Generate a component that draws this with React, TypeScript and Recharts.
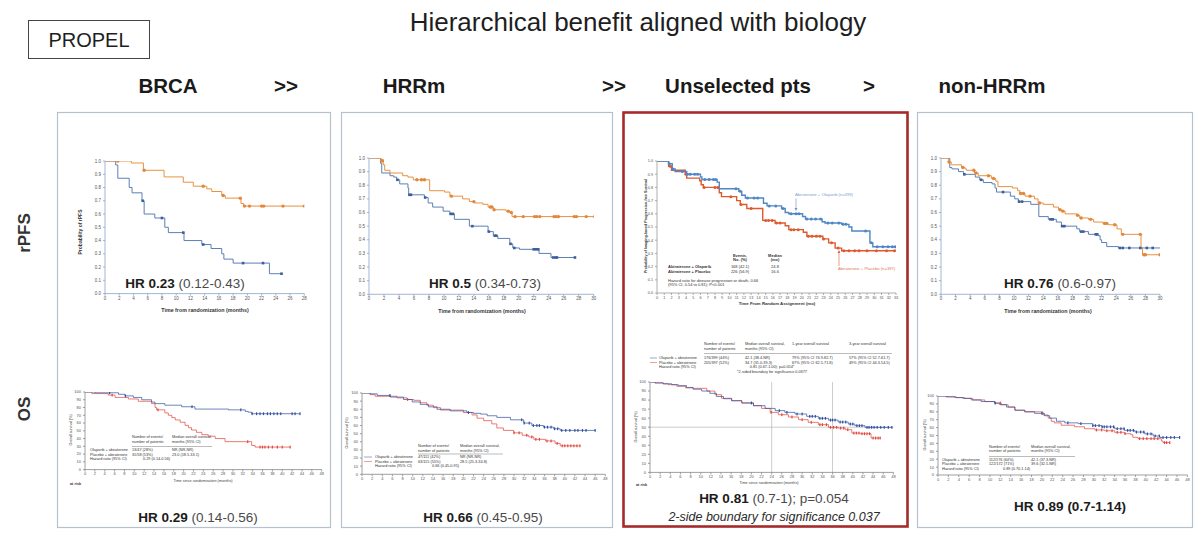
import React from "react";
import { ComposedChart, Line, XAxis, YAxis, ReferenceLine } from "recharts";

type Pt = [number, number];

const FONT = '"Liberation Sans", Arial, Helvetica, sans-serif';

// ---- axis ticks ----
const pfsYTicks = [0, 0.1, 0.2, 0.3, 0.4, 0.5, 0.6, 0.7, 0.8, 0.9, 1.0];
const osYTicks = [0, 10, 20, 30, 40, 50, 60, 70, 80, 90, 100];
const monthsTo28 = [0, 2, 4, 6, 8, 10, 12, 14, 16, 18, 20, 22, 24, 26, 28];
const monthsTo30 = [0, 2, 4, 6, 8, 10, 12, 14, 16, 18, 20, 22, 24, 26, 28, 30];
const monthsTo33 = [0, 1, 2, 3, 4, 5, 6, 7, 8, 9, 10, 11, 12, 13, 14, 15, 16, 17, 18, 19, 20, 21, 22, 23, 24, 25, 26, 27, 28, 29, 30, 31, 32, 33];
const monthsTo48 = [0, 2, 4, 6, 8, 10, 12, 14, 16, 18, 20, 22, 24, 26, 28, 30, 32, 34, 36, 38, 40, 42, 44, 46, 48];

// ---- BRCA rPFS ----
const brcaPfsOla: Pt[] = [[0, 1], [3.7, 0.985], [5.4, 0.93], [8.3, 0.88], [11, 0.84], [12.4, 0.81], [14.3, 0.79], [15, 0.77], [16.4, 0.74], [16.9, 0.72], [19.1, 0.68], [19.5, 0.66]];
const brcaPfsOlaCens = [1.8, 5.5, 13.8, 16.6, 19, 19.6, 20.3, 22, 22.3, 25, 28];
const brcaPfsPbo: Pt[] = [[0, 1], [1.5, 0.97], [1.8, 0.87], [3.4, 0.8], [3.8, 0.76], [5.2, 0.7], [5.5, 0.6], [7, 0.57], [8.4, 0.5], [8.9, 0.46], [11.1, 0.4], [13.6, 0.37], [14.9, 0.34], [16.4, 0.3], [16.7, 0.26], [18, 0.23], [23.1, 0.15]];
const brcaPfsPboCens = [5.3, 8, 11, 13.8, 19.4, 22.2, 24.8];

// ---- HRRm rPFS ----
const hrrPfsOla: Pt[] = [[0, 1], [1.6, 0.98], [1.9, 0.95], [2.1, 0.91], [2.8, 0.89], [4.5, 0.87], [5.2, 0.86], [5.9, 0.84], [8.1, 0.76], [10.1, 0.75], [10.8, 0.72], [12.5, 0.7], [13.4, 0.68], [14.1, 0.67], [15.2, 0.66], [15.9, 0.64], [16.6, 0.62], [18.3, 0.61], [18.8, 0.6], [19.1, 0.57]];
const hrrPfsOlaCens = [1.7, 1.8, 6.4, 7, 7.4, 11, 14, 16.2, 16.4, 16.7, 18.6, 19, 19.5, 20.6, 22.1, 22.4, 22.8, 24.7, 25, 25.3, 27.4, 27.7, 29, 30.1];
const hrrPfsPbo: Pt[] = [[0, 1], [1.55, 0.96], [1.7, 0.89], [2.8, 0.87], [3.3, 0.86], [3.7, 0.84], [4.1, 0.81], [5.2, 0.78], [5.3, 0.73], [7.4, 0.71], [7.9, 0.67], [8.5, 0.64], [9.9, 0.61], [10.8, 0.59], [11.4, 0.55], [13.4, 0.5], [15.9, 0.46], [16.6, 0.43], [17.2, 0.41], [18.8, 0.37], [19.2, 0.34], [20.1, 0.33], [22.7, 0.3], [24.3, 0.27]];
const hrrPfsPboCens = [3.8, 5.4, 5.6, 7.5, 10.9, 11.2, 13.8, 16, 16.8, 17, 18.9, 19.4, 22, 22.3, 22.6, 24.6, 24.9, 25.1, 27.5];

// ---- Unselected rPFS ----
const allPfsOla: Pt[] = [[0, 1], [1.6, 0.98], [2.1, 0.94], [2.5, 0.92], [4.1, 0.9], [6, 0.88], [6.2, 0.86], [8.3, 0.84], [8.6, 0.79], [11.3, 0.77], [11.7, 0.74], [12.2, 0.72], [14.7, 0.68], [15.2, 0.66], [17.2, 0.64], [17.7, 0.61], [18.2, 0.6], [20.1, 0.58], [20.5, 0.56], [22.8, 0.54], [23.2, 0.53], [25.5, 0.52], [26.5, 0.5], [26.9, 0.47], [29.4, 0.38], [29.8, 0.35]];
const allPfsOlaCens = [1.7, 2.2, 3.5, 4.2, 4.6, 5.2, 5.6, 6.6, 7.2, 7.8, 8.1, 10.9, 11.5, 12.5, 13.4, 13.9, 15.5, 16.4, 17.4, 18.5, 19.2, 19.6, 20.7, 21.3, 21.9, 22.6, 23.6, 24.2, 25.1, 25.7, 26.1, 28.8, 29.6, 30.4, 31.2, 31.9, 32.5, 32.9];
const allPfsPbo: Pt[] = [[0, 1], [1.6, 0.96], [2, 0.93], [3.9, 0.9], [4.1, 0.87], [5.9, 0.85], [6.1, 0.82], [6.4, 0.8], [8.6, 0.76], [8.9, 0.73], [11, 0.7], [11.5, 0.67], [12.4, 0.64], [14.6, 0.55], [16.3, 0.53], [17.7, 0.51], [18.2, 0.48], [20.2, 0.46], [20.7, 0.43], [22.9, 0.41], [23.7, 0.38], [24.6, 0.34], [25.5, 0.32]];
const allPfsPboCens = [1.8, 4.0, 6.5, 8.0, 8.4, 10.2, 11.6, 13.0, 15.0, 15.4, 15.9, 16.5, 17.0, 18.5, 18.9, 19.5, 20.9, 21.4, 22.0, 22.5, 23.0, 24.1, 25.0, 25.8, 26.5, 27.3, 27.9, 29.0, 30.3, 31.7, 32.8];

// ---- non-HRRm rPFS ----
const nonPfsOla: Pt[] = [[0, 1], [1, 0.97], [1.4, 0.95], [2.8, 0.93], [3.3, 0.92], [3.5, 0.91], [4.6, 0.89], [5.1, 0.87], [6.9, 0.85], [7.5, 0.83], [7.8, 0.79], [9.8, 0.78], [10.5, 0.76], [10.8, 0.74], [11.5, 0.72], [12.8, 0.7], [13.3, 0.67], [14, 0.66], [15.4, 0.64], [16.1, 0.62], [16.5, 0.61], [17, 0.59], [18.6, 0.58], [19, 0.56], [20.2, 0.55], [20.9, 0.53], [22.2, 0.52], [22.9, 0.51], [24.1, 0.48], [24.7, 0.44], [27.4, 0.34], [27.6, 0.29]];
const nonPfsOlaCens = [1.1, 3, 4.5, 4.8, 6.5, 7.2, 10.9, 11.3, 12.2, 13.5, 16.3, 16.7, 18.7, 19.2, 20.5, 22.4, 22.7, 23.8, 24.9, 27.3, 27.8, 28, 30, 30.4];
const nonPfsPbo: Pt[] = [[0, 1], [1.2, 0.93], [1.5, 0.92], [2.4, 0.9], [3.1, 0.88], [4.7, 0.86], [5.3, 0.84], [5.8, 0.82], [7, 0.81], [7.4, 0.78], [7.6, 0.75], [9.5, 0.72], [10.1, 0.7], [10.6, 0.68], [12.3, 0.66], [13.4, 0.57], [14.7, 0.55], [15.8, 0.53], [16.5, 0.5], [18.6, 0.48], [19, 0.46], [20.2, 0.44], [21.5, 0.43], [21.8, 0.4], [22, 0.38], [22.7, 0.35], [24.3, 0.34]];
const nonPfsPboCens = [3.2, 5.5, 8.5, 10.7, 11.1, 15, 15.3, 16.6, 16.9, 19.2, 19.5, 21.2, 21.4, 24.5, 24.9, 25.8, 27.3, 28.2, 29, 30.2];

// ---- BRCA OS ----
const brcaOsOla: Pt[] = [[0, 100], [2, 99], [6.8, 97], [8.1, 95], [9.8, 93], [11.5, 90], [13.5, 87], [14.2, 85], [16.2, 83], [19.6, 81], [22.3, 78], [29.1, 77], [32.5, 75], [33.1, 74], [33.8, 72]];
const brcaOsOlaCens = [5, 8.2, 21.7, 31.6, 33.9, 34.8, 35.5, 36.2, 37, 37.6, 38.3, 39, 39.7, 42, 42.6, 43.6];
const brcaOsPbo: Pt[] = [[0, 100], [1.4, 98], [4.7, 96], [6.1, 93], [8.8, 91], [10.8, 88], [13.5, 85], [14.2, 80], [14.5, 77], [16.2, 73], [16.9, 70], [17.6, 67], [18.3, 64], [19.3, 61], [20.3, 57], [21, 54], [21.6, 51], [22.6, 48], [23.7, 45], [25, 43], [26.4, 40], [28.4, 36], [33.8, 31], [34.5, 29]];
const brcaOsPboCens = [5.5, 14.8, 33, 35.5, 36, 36.5, 37.2, 38, 39, 40, 41.6];

// ---- HRRm OS ----
const hrrOsOla: Pt[] = [[0, 100], [1.6, 99], [3, 97], [5.6, 95], [8.2, 92], [9.9, 89], [11.5, 86], [13.1, 83], [14.8, 80], [17.4, 78], [20.7, 76], [22, 75], [23.4, 74], [24.7, 72], [26.6, 70], [29.3, 67], [31.9, 63], [33.5, 60], [35.8, 58], [37.8, 56], [39.1, 54]];
const hrrOsOlaCens = [5.5, 21, 31.5, 32, 33, 33.8, 34.5, 35, 36, 36.6, 37.3, 38, 38.6, 39.4, 40.2, 41, 42, 42.6, 43.5, 44.2, 46];
const hrrOsPbo: Pt[] = [[0, 100], [1.6, 98], [2.6, 96], [6.9, 94], [8.9, 92], [10.2, 91], [11.5, 88], [12.8, 85], [14.1, 82], [15.5, 79], [20, 76], [21.7, 73], [22.7, 69], [24, 66], [25.6, 62], [26.6, 57], [27.9, 54], [29.9, 51], [31.6, 48], [32.9, 46], [33.9, 43], [36.2, 41], [38.1, 38], [39.1, 35]];
const hrrOsPboCens = [9, 30, 31, 32.5, 33.5, 34.3, 35, 36.5, 37.3, 38.5, 39.5, 40, 40.6, 41.2, 41.8, 42.4, 43];

// ---- Unselected OS ----
const allOsOla: Pt[] = [[0, 100], [1, 99], [2.6, 98], [4.3, 97], [5.6, 96], [7.2, 94], [8.5, 92], [10.2, 90], [11.8, 87.5], [13.1, 84], [14.5, 81.5], [16.1, 79.3], [18.1, 76.8], [20.4, 73.8], [22.7, 70.8], [24.7, 68.3], [26.6, 66.4], [28.6, 64.6], [30.9, 62], [33.2, 59.8], [35.2, 57.9], [37.1, 55.7], [39.1, 53.5], [40.4, 51.7], [42.4, 49.8]];
const allOsOlaCens = [20, 25.5, 27, 29, 30, 31.5, 32, 32.6, 33.5, 34, 34.6, 35.6, 36, 36.5, 37.5, 38, 38.6, 39.5, 40, 40.8, 41.3, 41.8, 42.8, 43.2, 43.7, 44.2, 44.8, 45.5, 46.2, 47, 47.7];
const allOsPbo: Pt[] = [[0, 100], [1, 99], [2.6, 98], [3.6, 97], [5.3, 95.2], [7, 93.5], [8.5, 93], [11.2, 90], [12.8, 86], [14.1, 82], [16.1, 79.3], [18.1, 76.8], [20.4, 73.8], [22, 70.8], [23.7, 66.4], [25.3, 63.8], [27.3, 61.3], [29.3, 58.3], [31.2, 55.4], [33.2, 52.8], [35.2, 49.8], [37.1, 49], [38.5, 47.2], [39.8, 43.5], [41.5, 42.8], [43.6, 38]];
const allOsPboCens = [23.9, 26, 28, 30, 31.8, 33.5, 34, 34.8, 35.6, 36.2, 36.8, 37.6, 38.2, 39, 40.2, 40.7, 41.2, 41.8, 42.3, 42.8, 43.3, 44, 44.5, 45, 45.4];
const allOsLandmarks = [24, 36];
const allOsMedianLine = 50;

// ---- non-HRRm OS ----
const nonOsOla: Pt[] = [[0, 100], [1.6, 99], [3.5, 98], [4.8, 97], [6.4, 95], [8.3, 93], [10.9, 91], [11.9, 89], [13.2, 86], [14.8, 82], [16.7, 80], [18.6, 78], [20.5, 75], [21.5, 72], [22.8, 68], [24.4, 66], [27, 65], [29.8, 62.5], [31.5, 61], [34, 58.6], [35.9, 56.5], [37.9, 54.4], [39.8, 52], [41.4, 49.4], [42.7, 47.5]];
const nonOsOlaCens = [11, 20, 25, 27.5, 29.8, 30.3, 31, 31.6, 32, 32.5, 33.2, 33.8, 34.5, 35.2, 35.8, 36.5, 37, 37.6, 38.2, 39, 39.6, 40.3, 41, 41.8, 42.6, 43.3, 44, 44.8, 45.5, 46.5];
const nonOsPbo: Pt[] = [[0, 100], [1.6, 99], [3.2, 98], [5.1, 97], [6.7, 95], [9, 93], [10.9, 91], [12.2, 89], [13.5, 86], [14.8, 82], [16.7, 80], [20.2, 76], [21.2, 72], [21.8, 68], [22.4, 66], [23.7, 63], [26.3, 61], [28.2, 58.6], [30.2, 57], [32.1, 56], [34, 54], [35.9, 52.3], [37.1, 51], [37.5, 47.7], [38.5, 46], [43, 43], [43.3, 41]];
const nonOsPboCens = [12, 30.5, 31.5, 32.5, 33.5, 34.5, 35.2, 36, 38.8, 39.5, 40.2, 41, 41.6, 42.3, 43.6, 44, 44.6];

// ---- colours ----
const PFS_ORANGE = "#e8913f";
const PFS_BLUE = "#5b7fb5";
const ALL_BLUE = "#4f86c6";
const ALL_RED = "#dd5a2f";
const OS_BLUE = "#2f4f9e";
const OS_RED = "#e0463c";

type Mark = "circle" | "square" | "tick";
type Series = { steps: Pt[]; cens: number[]; color: string; width: number; mark: Mark; r: number; markColor?: string };

function survAt(steps: Pt[], t: number) {
  let s = steps[0][1];
  for (const [tt, ss] of steps) if (tt <= t) s = ss;
  return s;
}

function kmRows(steps: Pt[], cens: number[]) {
  const rows = steps.map(([t, s]) => ({ t, s, c: false }));
  for (const t of cens) rows.push({ t, s: survAt(steps, t), c: true });
  return rows.sort((a, b) => a.t - b.t || Number(a.c) - Number(b.c));
}

const markRenderer = (s: Series) => (p: any) => {
  const { cx, cy, payload, index } = p;
  const fill = s.markColor || s.color;
  if (!payload || !payload.c || cx == null || cy == null) return <g key={`n${index}`} />;
  if (s.mark === "circle") return <circle key={`m${index}`} cx={cx} cy={cy} r={s.r} fill={fill} />;
  if (s.mark === "square")
    return <rect key={`m${index}`} x={cx - s.r} y={cy - s.r} width={s.r * 2} height={s.r * 2} fill={fill} />;
  return <rect key={`m${index}`} x={cx - 0.6} y={cy - s.r} width={1.2} height={s.r * 2} fill={fill} />;
};

type KMProps = {
  x0: number; x1: number; y0: number; y1: number;
  xMax: number; yMax: number; xTicks: number[]; yTicks: number[];
  yFmt: (v: number) => string; axis: string; fs: number; series: Series[];
  refX?: number[]; refY?: number;
};

function KM({ x0, x1, y0, y1, xMax, yMax, xTicks, yTicks, yFmt, axis, fs, series, refX, refY }: KMProps) {
  const padL = 24, padR = 6, padT = 4, padB = 12;
  const w = x1 - x0 + padL + padR;
  const h = y1 - y0 + padT + padB;
  const tick = { fontSize: fs, fill: "#555", fontFamily: FONT };
  return (
    <div style={{ position: "absolute", left: x0 - padL, top: y0 - padT, width: w, height: h }}>
      <ComposedChart width={w} height={h} margin={{ top: padT, right: padR, bottom: 0, left: 0 }}>
        <XAxis type="number" dataKey="t" domain={[0, xMax]} ticks={xTicks} interval={0} allowDataOverflow
          height={padB} tickSize={2} tickMargin={1} stroke={axis} strokeWidth={0.8} tick={tick} />
        <YAxis type="number" dataKey="s" domain={[0, yMax]} ticks={yTicks} interval={0} allowDataOverflow
          width={padL} tickSize={2} tickMargin={2} stroke={axis} strokeWidth={0.8} tick={tick} tickFormatter={yFmt} />
        {(refX || []).map((v) => (
          <ReferenceLine key={`rx${v}`} x={v} stroke="#999" strokeWidth={0.5} />
        ))}
        {refY !== undefined && <ReferenceLine y={refY} stroke="#999" strokeWidth={0.5} />}
        {series.map((s, i) => (
          <Line key={i} data={kmRows(s.steps, s.cens)} dataKey="s" type="stepAfter" stroke={s.color}
            strokeWidth={s.width} dot={markRenderer(s)} activeDot={false} isAnimationActive={false} />
        ))}
      </ComposedChart>
    </div>
  );
}

const pfsFmt = (v: number) => v.toFixed(1);
const osFmt = (v: number) => String(v);

function VText({ x, y, size, children, bold }: { x: number; y: number; size: number; children: React.ReactNode; bold?: boolean }) {
  return (
    <text transform={`translate(${x},${y}) rotate(-90)`} textAnchor="middle" fontSize={size}
      fontWeight={bold ? "bold" : "normal"} fill="#333">{children}</text>
  );
}

function HR({ x, y, bold, rest, allBold }: { x: number; y: number; bold: string; rest: string; allBold?: boolean }) {
  return (
    <text x={x} y={y} textAnchor="middle" fontSize={13.5}>
      <tspan fontWeight="bold" fill="#1c1c1c">{bold}</tspan>
      <tspan fontWeight={allBold ? "bold" : "normal"} fill={allBold ? "#1c1c1c" : "#4a4a4a"}>{" " + rest}</tspan>
    </text>
  );
}

export default function App() {
  const pfsSeries = (ola: Pt[], olaC: number[], pbo: Pt[], pboC: number[]): Series[] => [
    { steps: pbo, cens: pboC, color: PFS_BLUE, width: 1, mark: "square", r: 1.3, markColor: "#3d5f98" },
    { steps: ola, cens: olaC, color: PFS_ORANGE, width: 1, mark: "circle", r: 1.7, markColor: "#e3873a" },
  ];
  const osSeries = (ola: Pt[], olaC: number[], pbo: Pt[], pboC: number[]): Series[] => [
    { steps: pbo, cens: pboC, color: OS_RED, width: 0.7, mark: "tick", r: 1.4 },
    { steps: ola, cens: olaC, color: OS_BLUE, width: 0.7, mark: "tick", r: 1.4 },
  ];
  const small = 4;
  return (
    <div style={{ position: "absolute", left: 0, top: 0, width: 1200, height: 533, background: "#fff", overflow: "hidden", fontFamily: FONT }}>
      {/* rPFS row */}
      <KM x0={105} x1={304.3} y0={160.7} y1={293.3} xMax={28} yMax={1} xTicks={monthsTo28} yTicks={pfsYTicks}
        yFmt={pfsFmt} axis="#8aa3c6" fs={4.5} series={pfsSeries(brcaPfsOla, brcaPfsOlaCens, brcaPfsPbo, brcaPfsPboCens)} />
      <KM x0={369.3} x1={594} y0={157.7} y1={294} xMax={30} yMax={1} xTicks={monthsTo30} yTicks={pfsYTicks}
        yFmt={pfsFmt} axis="#8aa3c6" fs={4.5} series={pfsSeries(hrrPfsOla, hrrPfsOlaCens, hrrPfsPbo, hrrPfsPboCens)} />
      <KM x0={657} x1={896} y0={160.7} y1={292.7} xMax={33} yMax={1} xTicks={monthsTo33} yTicks={pfsYTicks}
        yFmt={pfsFmt} axis="#999" fs={3.8} series={[
          { steps: allPfsPbo, cens: allPfsPboCens, color: ALL_RED, width: 1.4, mark: "circle", r: 1.5 },
          { steps: allPfsOla, cens: allPfsOlaCens, color: ALL_BLUE, width: 1.4, mark: "circle", r: 1.5 },
        ]} />
      <KM x0={941} x1={1160} y0={157.7} y1={294} xMax={30} yMax={1} xTicks={monthsTo30} yTicks={pfsYTicks}
        yFmt={pfsFmt} axis="#8aa3c6" fs={4.5} series={pfsSeries(nonPfsOla, nonPfsOlaCens, nonPfsPbo, nonPfsPboCens)} />

      {/* OS row */}
      <KM x0={85} x1={321.7} y0={391.7} y1={469.3} xMax={48} yMax={100} xTicks={monthsTo48} yTicks={osYTicks}
        yFmt={osFmt} axis="#888" fs={small} series={osSeries(brcaOsOla, brcaOsOlaCens, brcaOsPbo, brcaOsPboCens)} />
      <KM x0={361.7} x1={605} y0={392.7} y1={474} xMax={48} yMax={100} xTicks={monthsTo48} yTicks={osYTicks}
        yFmt={osFmt} axis="#888" fs={small} series={osSeries(hrrOsOla, hrrOsOlaCens, hrrOsPbo, hrrOsPboCens)} />
      <KM x0={650.3} x1={893.7} y0={382.3} y1={472.7} xMax={48} yMax={100} xTicks={monthsTo48} yTicks={osYTicks}
        yFmt={osFmt} axis="#888" fs={small} refX={allOsLandmarks} refY={allOsMedianLine}
        series={osSeries(allOsOla, allOsOlaCens, allOsPbo, allOsPboCens)} />
      <KM x0={938.3} x1={1187.7} y0={396} y1={475} xMax={48} yMax={100} xTicks={monthsTo48} yTicks={osYTicks}
        yFmt={osFmt} axis="#888" fs={small} series={osSeries(nonOsOla, nonOsOlaCens, nonOsPbo, nonOsPboCens)} />

      <svg width={1200} height={533} style={{ position: "absolute", left: 0, top: 0, pointerEvents: "none" }} fontFamily={FONT}>
        {/* header */}
        <text x={638} y={31} textAnchor="middle" fontSize={26} fill="#1e1e1e">Hierarchical benefit aligned with biology</text>
        <rect x={28.5} y={20.5} width={121} height={38} fill="none" stroke="#444" strokeWidth={1} />
        <text x={89} y={47} textAnchor="middle" fontSize={20} fill="#1e1e1e">PROPEL</text>
        <g fontSize={20.5} fontWeight="bold" fill="#1a1a1a" textAnchor="middle">
          <text x={168} y={93}>BRCA</text>
          <text x={286} y={93}>&gt;&gt;</text>
          <text x={414} y={93}>HRRm</text>
          <text x={614} y={93}>&gt;&gt;</text>
          <text x={738} y={93}>Unselected pts</text>
          <text x={869} y={93}>&gt;</text>
          <text x={992} y={93}>non-HRRm</text>
        </g>
        <VText x={30} y={233} size={17} bold>rPFS</VText>
        <VText x={30} y={409} size={17} bold>OS</VText>

        {/* panel frames */}
        <rect x={57.5} y={112.5} width={273} height={415} fill="none" stroke="#b3c2ce" strokeWidth={1.2} />
        <rect x={341.5} y={112.5} width={271} height={415} fill="none" stroke="#b3c2ce" strokeWidth={1.2} />
        <rect x={623.5} y={112.5} width={284} height={414} fill="none" stroke="#a52a2a" strokeWidth={2.6} />
        <rect x={917.5} y={112.5} width={275} height={415} fill="none" stroke="#b3c2ce" strokeWidth={1.2} />

        {/* BRCA rPFS */}
        <VText x={82} y={232} size={5} bold>Probability of rPFS</VText>
        <text x={205} y={312} textAnchor="middle" fontSize={5.3} fontWeight="bold" fill="#333">Time from randomization (months)</text>
        <HR x={185} y={288} bold="HR 0.23" rest="(0.12-0.43)" />

        {/* HRRm rPFS */}
        <text x={482} y={313} textAnchor="middle" fontSize={5.3} fontWeight="bold" fill="#333">Time from randomization (months)</text>
        <HR x={485} y={288} bold="HR 0.5" rest="(0.34-0.73)" />

        {/* Unselected rPFS */}
        <VText x={647} y={226} size={3.6} bold>Probability of Imaging-based Progression-free Survival</VText>
        <text x={777} y={305} textAnchor="middle" fontSize={4.3} fontWeight="bold" fill="#333">Time From Random Assignment (mo)</text>
        <text x={795} y={196} fontSize={4.2} fill="#7d9fd4">Abiraterone + Olaparib (n=399)</text>
        <line x1={796} y1={198.5} x2={796} y2={209} stroke="#6f8fc4" strokeWidth={0.6} />
        <polygon points="794.6,208 797.4,208 796,211" fill="#6f8fc4" />
        <text x={838} y={269.5} fontSize={4.2} fill="#e07a55">Abiraterone + Placebo (n=397)</text>
        <line x1={839} y1={266} x2={839} y2={252} stroke="#d9603b" strokeWidth={0.6} />
        <polygon points="837.6,253 840.4,253 839,250" fill="#d9603b" />
        <g fontSize={4} fill="#333">
          <text x={740} y={256.5} textAnchor="middle" fontWeight="bold">Events,</text>
          <text x={740} y={261} textAnchor="middle" fontWeight="bold">No. (%)</text>
          <text x={775} y={256.5} textAnchor="middle" fontWeight="bold">Median</text>
          <text x={775} y={261} textAnchor="middle" fontWeight="bold">(mo)</text>
          <text x={668} y={268.3} fontWeight="bold">Abiraterone + Olaparib</text>
          <text x={740} y={268.3} textAnchor="middle">168 (42.1)</text>
          <text x={775} y={268.3} textAnchor="middle">24.8</text>
          <text x={668} y={273.3} fontWeight="bold">Abiraterone + Placebo</text>
          <text x={740} y={273.3} textAnchor="middle">226 (56.9)</text>
          <text x={775} y={273.3} textAnchor="middle">16.6</text>
          <text x={668} y={281.5}>Hazard ratio for disease progression or death, 0.66</text>
          <text x={668} y={286}>(95% CI, 0.54 to 0.81); P&lt;0.001</text>
        </g>

        {/* non-HRRm rPFS */}
        <text x={1048} y={313} textAnchor="middle" fontSize={5.3} fontWeight="bold" fill="#333">Time from randomization (months)</text>
        <HR x={1060} y={288} bold="HR 0.76" rest="(0.6-0.97)" />

        {/* BRCA OS */}
        <VText x={71.5} y={430} size={3.6}>Overall survival (%)</VText>
        <text x={203} y={482} textAnchor="middle" fontSize={3.8} fill="#444">Time since randomisation (months)</text>
        <text x={70} y={485} fontSize={3.8} fontWeight="bold" fill="#333">at risk</text>
        <g fontSize={3.8} fill="#333">
          <text x={132} y={438}>Number of events/</text>
          <text x={132} y={442.5}>number of patients</text>
          <text x={172} y={438}>Median overall survival,</text>
          <text x={172} y={442.5}>months (95% CI)</text>
          <line x1={132} x2={212} y1={446.5} y2={446.5} stroke="#555" strokeWidth={0.4} />
          <text x={90} y={451}>Olaparib + abiraterone</text>
          <text x={132} y={451}>13/47 (28%)</text>
          <text x={172} y={451}>NR (NR-NR)</text>
          <text x={90} y={455.5}>Placebo + abiraterone</text>
          <text x={132} y={455.5}>31/58 (53%)</text>
          <text x={172} y={455.5}>23.0 (18.5-33.1)</text>
          <text x={90} y={460}>Hazard ratio (95% CI)</text>
          <text x={143} y={460}>0.29 (0.14-0.56)</text>
        </g>
        <HR x={198} y={522} bold="HR 0.29" rest="(0.14-0.56)" />

        {/* HRRm OS */}
        <VText x={348} y={433} size={3.6}>Overall survival (%)</VText>
        <g fontSize={3.8} fill="#333">
          <text x={418} y={447}>Number of events/</text>
          <text x={418} y={451.5}>number of patients</text>
          <text x={460} y={447}>Median overall survival,</text>
          <text x={460} y={451.5}>months (95% CI)</text>
          <line x1={418} x2={503} y1={454} y2={454} stroke="#555" strokeWidth={0.4} />
          <line x1={364} x2={372} y1={457} y2={457} stroke={OS_BLUE} strokeWidth={0.5} />
          <line x1={364} x2={372} y1={461.5} y2={461.5} stroke={OS_RED} strokeWidth={0.5} />
          <text x={375} y={458}>Olaparib + abiraterone</text>
          <text x={418} y={458}>47/111 (42%)</text>
          <text x={460} y={458}>NR (NR-NR)</text>
          <text x={375} y={462.5}>Placebo + abiraterone</text>
          <text x={418} y={462.5}>63/115 (55%)</text>
          <text x={460} y={462.5}>28.5 (25.3-34.8)</text>
          <text x={375} y={467}>Hazard ratio (95% CI)</text>
          <text x={432} y={467}>0.66 (0.45-0.95)</text>
        </g>
        <HR x={483} y={522} bold="HR 0.66" rest="(0.45-0.95)" />

        {/* Unselected OS */}
        <VText x={637} y={427} size={3.6}>Overall survival (%)</VText>
        <text x={769} y={484} textAnchor="middle" fontSize={3.8} fill="#444">Time since randomisation (months)</text>
        <text x={636} y={486} fontSize={3.8} fontWeight="bold" fill="#333">at risk</text>
        <g fontSize={3.8} fill="#333">
          <text x={704} y={345}>Number of events/</text>
          <text x={704} y={349.5}>number of patients</text>
          <text x={745} y={345}>Median overall survival,</text>
          <text x={745} y={349.5}>months (95% CI)</text>
          <text x={792} y={345}>1-year overall survival</text>
          <text x={849} y={345}>3-year overall survival</text>
          <line x1={704} x2={892} y1={353.5} y2={353.5} stroke="#555" strokeWidth={0.4} />
          <line x1={650} x2={657} y1={358} y2={358} stroke={OS_BLUE} strokeWidth={0.5} />
          <line x1={650} x2={657} y1={362.5} y2={362.5} stroke={OS_RED} strokeWidth={0.5} />
          <text x={659} y={359}>Olaparib + abiraterone</text>
          <text x={704} y={359}>176/399 (44%)</text>
          <text x={745} y={359}>42.1 (38.4-NR)</text>
          <text x={792} y={359}>79% (95% CI 74.9-82.7)</text>
          <text x={849} y={359}>57% (95% CI 52.7-61.7)</text>
          <text x={659} y={363.5}>Placebo + abiraterone</text>
          <text x={704} y={363.5}>205/397 (52%)</text>
          <text x={745} y={363.5}>34.7 (31.0-39.3)</text>
          <text x={792} y={363.5}>67% (95% CI 62.5-71.8)</text>
          <text x={849} y={363.5}>49% (95% CI 44.3-54.5)</text>
          <text x={659} y={368}>Hazard ratio (95% CI)</text>
          <text x={772} y={368} textAnchor="middle">0.81 (0.67-1.00); p=0.054*</text>
          <text x={772} y={372.5} textAnchor="middle">*2-sided boundary for significance 0.0377</text>
        </g>
        <HR x={774} y={503} bold="HR 0.81" rest="(0.7-1); p=0.054" />
        <text x={774} y={520.5} textAnchor="middle" fontSize={12.5} fontStyle="italic" fill="#2a2a2a">2-side boundary for significance 0.037</text>

        {/* non-HRRm OS */}
        <VText x={926} y={435} size={3.6}>Overall survival (%)</VText>
        <g fontSize={3.8} fill="#333">
          <text x={989} y={447.5}>Number of events/</text>
          <text x={989} y={452}>number of patients</text>
          <text x={1031} y={447.5}>Median overall survival,</text>
          <text x={1031} y={452}>months (95% CI)</text>
          <line x1={989} x2={1075} y1={456.5} y2={456.5} stroke="#555" strokeWidth={0.4} />
          <text x={942} y={460.5}>Olaparib + abiraterone</text>
          <text x={989} y={460.5}>112/176 (64%)</text>
          <text x={1031} y={460.5}>42.1 (37.3-NR)</text>
          <text x={942} y={465}>Placebo + abiraterone</text>
          <text x={989} y={465}>122/172 (71%)</text>
          <text x={1031} y={465}>39.6 (32.5-NR)</text>
          <text x={942} y={469.5}>Hazard ratio (95% CI)</text>
          <text x={1003} y={469.5}>0.89 (0.70-1.14)</text>
        </g>
        <HR x={1070} y={511} bold="HR 0.89" rest="(0.7-1.14)" allBold />
      </svg>
    </div>
  );
}
